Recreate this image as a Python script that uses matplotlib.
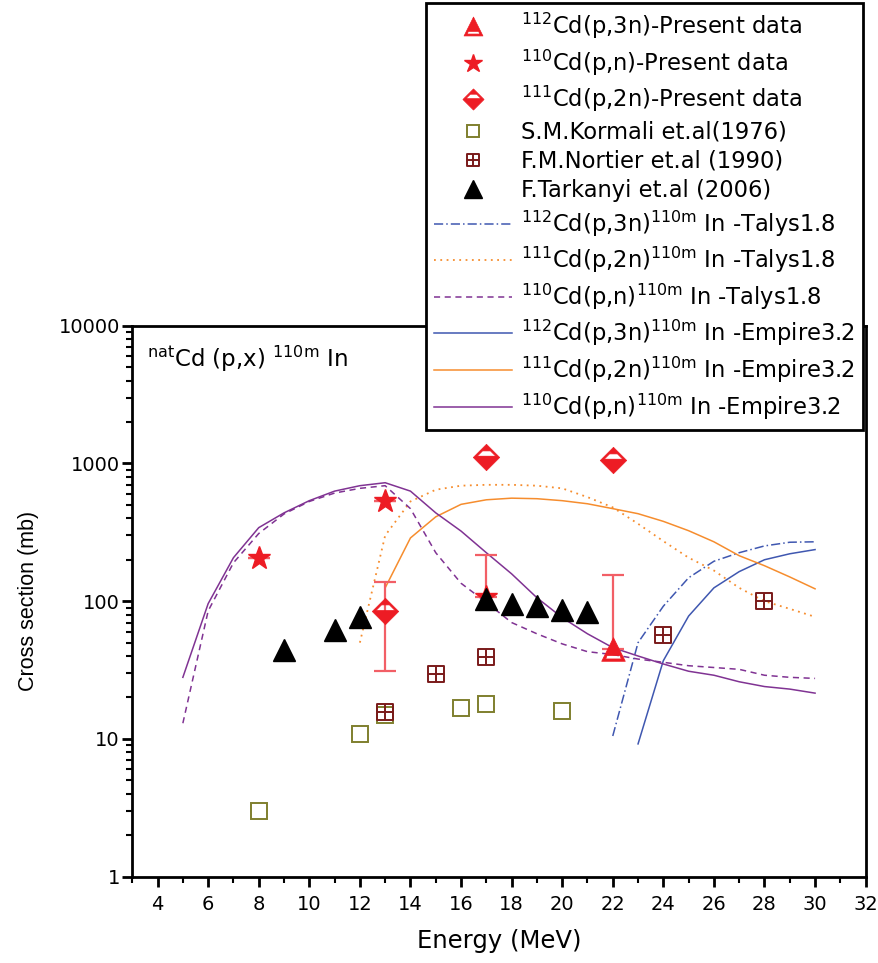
import matplotlib
matplotlib.use("Agg")
import matplotlib.pyplot as plt
from matplotlib.path import Path
from matplotlib.ticker import FixedLocator, LogLocator, NullFormatter

plt.rcParams['font.family'] = ['DejaVu Sans']
plt.rcParams['mathtext.default'] = 'regular'

# present data
e_112 = [22]
s_112 = [45]
err_112 = [[0], [110]]

e_110 = [8, 13, 17]
s_110 = [207, 537, 107]
err_110 = [[0, 0, 0], [0, 0, 110]]

e_111 = [13, 17, 22]
s_111 = [85, 1120, 1065]
err_111 = [[54, 0, 0], [54, 0, 0]]

# literature
e_kormali = [8, 12, 13, 16, 17, 20]
s_kormali = [3.0, 10.9, 14.8, 16.9, 18.0, 16.0]

e_nortier = [13, 15, 17, 24, 28]
s_nortier = [15.8, 29.8, 39.5, 57, 101]

e_tarkanyi = [9, 11, 12, 17, 18, 19, 20, 21]
s_tarkanyi = [44.5, 62, 77, 104, 96, 93, 87, 84]

# model calculations
e_talys_112 = [22, 23, 24, 25, 26, 27, 28, 29, 30]
s_talys_112 = [10.5, 50, 92, 148, 195, 225, 252, 268, 270]

e_talys_111 = [12, 13, 14, 15, 16, 17, 18, 19, 20, 21, 22, 23, 24, 25, 26, 27, 28, 29, 30]
s_talys_111 = [50, 300, 530, 645, 690, 700, 700, 690, 660, 570, 480, 365, 273, 207, 167, 125, 100, 88, 77]

e_talys_110 = list(range(5, 31))
s_talys_110 = [13, 85, 190, 310, 430, 530, 610, 660, 690, 470, 225, 135, 98, 70, 58, 49, 43, 41, 38, 36,
               34, 33, 32, 29, 28, 27.5]

e_emp_112 = [23, 24, 25, 26, 27, 28, 29, 30]
s_emp_112 = [9.2, 37, 78, 125, 164, 200, 221, 237]

e_emp_111 = [13, 14, 15, 16, 17, 18, 19, 20, 21, 22, 23, 24, 25, 26, 27, 28, 29, 30]
s_emp_111 = [125, 288, 410, 505, 545, 560, 555, 537, 510, 470, 432, 380, 325, 270, 214, 181, 150, 123]

e_emp_110 = list(range(5, 31))
s_emp_110 = [28, 96, 207, 342, 438, 537, 630, 690, 725, 630, 438, 323, 225, 158, 106, 76, 58, 46, 40, 35,
             31, 29, 26, 24, 23, 21.5]

red = '#ED1C24'
errc = '#F25F66'
olive = '#7F7F2E'
brown = '#7A1A1A'
purple = '#803393'
orange = '#F68D2E'
blue = '#3F57B0'

M, L, C = Path.MOVETO, Path.LINETO, Path.CLOSEPOLY

# square with a cross inside
sq_plus = Path([(-1, -1), (1, -1), (1, 1), (-1, 1), (-1, -1), (0, -1), (0, 1), (-1, 0), (1, 0)],
               [M, L, L, L, C, M, L, M, L])

# triangle with a thin white slot near the base
tri_slot = Path([(-1, -1), (1, -1), (0, 1), (-1, -1),
                 (-0.66, -0.8), (-0.55, -0.52), (0.55, -0.52), (0.66, -0.8), (-0.66, -0.8)],
                [M, L, L, C, M, L, L, L, C])

# diamond with a white band just above the middle
dia_slot = Path([(0, -1), (1, 0), (0, 1), (-1, 0), (0, -1),
                 (-0.72, 0.08), (-0.3, 0.5), (0.3, 0.5), (0.72, 0.08), (-0.72, 0.08)],
                [M, L, L, L, C, M, L, L, L, C])

fig = plt.figure(figsize=(8.79, 9.63), dpi=100)
ax = fig.add_axes([0.1505, 0.0897, 0.8343, 0.572])

l1, = ax.plot(e_talys_112, s_talys_112, color=blue, ls=(0, (6, 2, 1, 2)), lw=1.1)
l2, = ax.plot(e_talys_111, s_talys_111, color=orange, ls=(0, (1, 2.5)), lw=1.3)
l3, = ax.plot(e_talys_110, s_talys_110, color=purple, ls=(0, (4, 3)), lw=1.1)
l4, = ax.plot(e_emp_112, s_emp_112, color=blue, lw=1.1)
l5, = ax.plot(e_emp_111, s_emp_111, color=orange, lw=1.1)
l6, = ax.plot(e_emp_110, s_emp_110, color=purple, lw=1.1)

ax.errorbar(e_112, s_112, yerr=err_112, fmt='none', ecolor=errc, elinewidth=1.6, capsize=8, capthick=1.6)
ax.errorbar(e_110, s_110, yerr=err_110, fmt='none', ecolor=errc, elinewidth=1.6, capsize=8, capthick=1.6)
ax.errorbar(e_111, s_111, yerr=err_111, fmt='none', ecolor=errc, elinewidth=1.6, capsize=8, capthick=1.6)

m1, = ax.plot(e_112, s_112, ls='none', marker=tri_slot, ms=17, color=red, mec=red, mew=0.5)
m2, = ax.plot(e_110, s_110, ls='none', marker='*', ms=17, color=red, mec=red)
m3, = ax.plot(e_111, s_111, ls='none', marker=dia_slot, ms=19, color=red, mec=red, mew=0.5)

m4, = ax.plot(e_kormali, s_kormali, ls='none', marker='s', ms=11, mfc='none', mec=olive, mew=1.4)
m5, = ax.plot(e_nortier, s_nortier, ls='none', marker=sq_plus, ms=11, mfc='none', mec=brown, mew=1.4)

ax.errorbar(e_tarkanyi, s_tarkanyi, yerr=[v * 0.12 for v in s_tarkanyi], fmt='none', ecolor='black',
            elinewidth=1.5, capsize=0)
m6, = ax.plot(e_tarkanyi, s_tarkanyi, ls='none', marker='^', ms=16, color='black')

ax.set_yscale('log')
ax.set_xlim(3, 32)
ax.set_ylim(1, 10000)
ax.xaxis.set_major_locator(FixedLocator(range(4, 33, 2)))
ax.xaxis.set_minor_locator(FixedLocator(range(3, 33, 1)))
ax.yaxis.set_major_locator(FixedLocator([1, 10, 100, 1000, 10000]))
ax.yaxis.set_major_formatter(matplotlib.ticker.FuncFormatter(lambda v, p: '%d' % v))
ax.yaxis.set_minor_locator(LogLocator(base=10, subs=range(2, 10)))
ax.yaxis.set_minor_formatter(NullFormatter())

for s in ax.spines.values():
    s.set_linewidth(2)
ax.tick_params(which='major', direction='out', length=7, width=2, labelsize=14)
ax.tick_params(which='minor', direction='out', length=4, width=1.5)
ax.tick_params(axis='x', which='major', pad=6)
ax.tick_params(axis='y', which='major', pad=2)

ax.set_xlabel('Energy (MeV)', fontsize=17.5, labelpad=11)
ax.set_ylabel('Cross section (mb)', fontsize=15.5, labelpad=14, family='Liberation Sans')

ax.text(0.0196, 0.9256, r'$^{nat}$Cd (p,x) $^{110m}$ In', transform=ax.transAxes, fontsize=16.5,
        va='baseline', ha='left')

handles = [m1, m2, m3, m4, m5, m6, l1, l2, l3, l4, l5, l6]
labels = [r'$^{112}$Cd(p,3n)-Present data',
          r'$^{110}$Cd(p,n)-Present data',
          r'$^{111}$Cd(p,2n)-Present data',
          'S.M.Kormali et.al(1976)',
          'F.M.Nortier et.al (1990)',
          'F.Tarkanyi et.al (2006)',
          r'$^{112}$Cd(p,3n)$^{110m}$ In -Talys1.8',
          r'$^{111}$Cd(p,2n)$^{110m}$ In -Talys1.8',
          r'$^{110}$Cd(p,n)$^{110m}$ In -Talys1.8',
          r'$^{112}$Cd(p,3n)$^{110m}$ In -Empire3.2',
          r'$^{111}$Cd(p,2n)$^{110m}$ In -Empire3.2',
          r'$^{110}$Cd(p,n)$^{110m}$ In -Empire3.2']
leg = ax.legend(handles, labels, loc='upper right', bbox_to_anchor=(0.982, 0.997),
                bbox_transform=fig.transFigure, borderaxespad=0, fontsize=16.3, frameon=True,
                fancybox=False, framealpha=1, edgecolor='black', handlelength=3.45,
                handletextpad=0.4, labelspacing=0.28, borderpad=0.36, markerscale=0.8)
leg.get_frame().set_linewidth(2)
leg.set_zorder(10)

fig.savefig('out.png', dpi=100)
